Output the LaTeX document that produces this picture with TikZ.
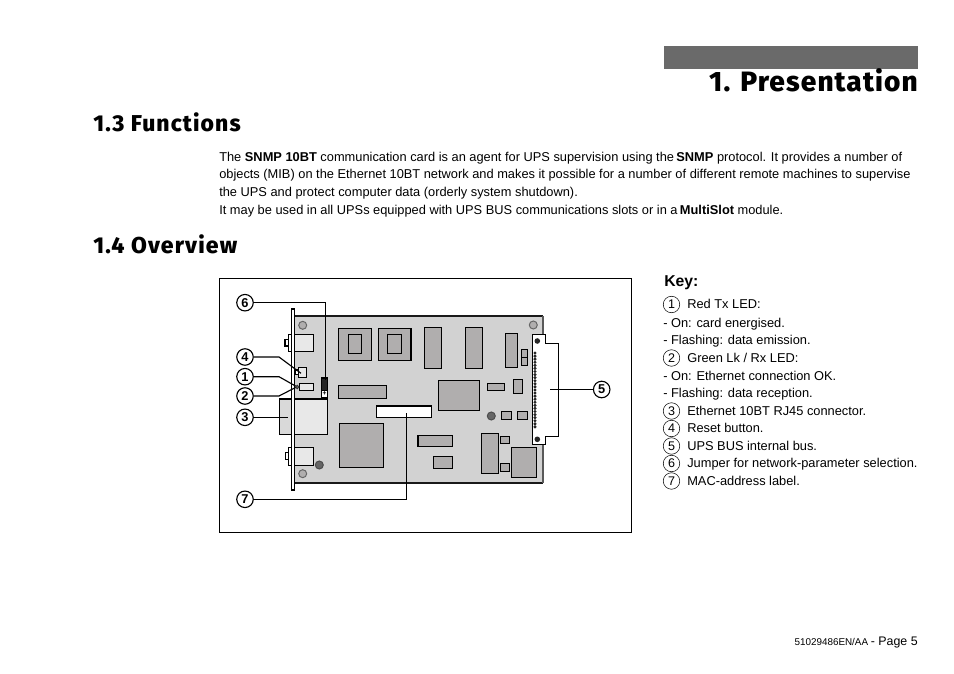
\documentclass[tikz,border=0pt]{standalone}
\usepackage{fontspec}
\setmainfont{Liberation Sans}
\newfontfamily\titlefont{Fira Sans}[BoldFont={Fira Sans ExtraBold},LetterSpace=4]
\newfontfamily\headfont{Fira Sans}[BoldFont={Fira Sans ExtraBold},LetterSpace=5]
\definecolor{boardc}{HTML}{D2D2D2}
\definecolor{chipc}{HTML}{B0AEAE}
\definecolor{lightc}{HTML}{E8E8E8}
\definecolor{darkc}{HTML}{666666}
\definecolor{barc}{HTML}{6A6A6A}
\tikzset{
  chip/.style={draw=black,line width=0.85pt,fill=chipc},
  pale/.style={draw=black,line width=0.85pt,fill=lightc},
  whitepart/.style={draw=black,line width=0.85pt,fill=white},
  hole/.style={draw=darkc,line width=0.75pt,fill=chipc},
  led/.style={draw=black!80,line width=0.6pt,fill=darkc},
  leader/.style={draw=black,line width=0.85pt},
  bubble/.style={circle,draw=black,line width=0.85pt,fill=white,minimum size=12.4pt,inner sep=0pt,font=\fontsize{9.6}{10}\selectfont\bfseries},
  keynum/.style={circle,draw=black,line width=0.4pt,fill=white,minimum size=12.4pt,inner sep=0pt,font=\fontsize{9.4}{10}\selectfont},
  body/.style={anchor=base west,inner sep=0pt,font=\fontsize{9.62}{12}\selectfont},
  keyt/.style={anchor=base west,inner sep=0pt,font=\fontsize{9.62}{12}\selectfont},
  head/.style={anchor=base west,inner sep=0pt,font=\headfont\fontsize{17.2}{18}\selectfont\bfseries},
}
\begin{document}
\begin{tikzpicture}[x=0.75pt,y=-0.75pt]
\useasboundingbox (0,0) rectangle (954,674);
% header
\fill[barc] (664,46) rectangle (918,69);
\node[anchor=base east,inner sep=0pt,font=\titlefont\fontsize{21}{24}\selectfont\bfseries] (title) at (918,92) {1. Presentation};
\node[head] (h13) at (93,131.5) {1.3 Functions};
\node[head] (h14) at (93,253.5) {1.4 Overview};
% body
\node[body] (l1) at (219,161.5) {The \textbf{SNMP 10BT} communication card is an agent for UPS supervision using the\hspace{-0.1em} \textbf{SNMP} protocol. It provides a number of};
\node[body] (l2) at (219,178.5) {objects (MIB) on the Ethernet 10BT network and makes it possible for a number of different remote machines to supervise};
\node[body] (l3) at (219,196.5) {the UPS and protect computer data (orderly system shutdown).};
\node[body] (l4) at (219,214.5) {It may be used in all UPSs equipped with UPS BUS communications slots or in a\hspace{-0.1em} \textbf{MultiSlot} module.};
% frame
\draw[black,line width=0.6pt] (219,278) rectangle (631,532);
% board
\fill[boardc] (294,316) rectangle (543,483);
\draw[black!90,line width=1.6pt] (294,316) -- (543,316);
\draw[black!90,line width=1.6pt] (294,483) -- (543,483);
\draw[black!65,line width=1pt] (543,316) -- (543,483);
% holes
\draw[hole] (302.7,325.3) circle (4);
\draw[hole] (302.7,473.7) circle (4);
\draw[hole] (533.3,325) circle (4);
\draw[draw=black!70,line width=0.75pt,fill=darkc] (319.3,465) circle (4);
\draw[draw=black!70,line width=0.75pt,fill=darkc] (491.3,416) circle (4);
% left connectors
\draw[pale] (294.7,334.3) rectangle (313.5,351.3);
\draw[whitepart] (285,339.3) rectangle (288.3,346);
\draw[whitepart] (288.3,334.3) rectangle (291.3,351.3);
\draw[pale] (294.7,447.3) rectangle (313.5,465.3);
\draw[whitepart] (285.3,452.3) rectangle (288.3,459.3);
\draw[whitepart] (288.3,447.3) rectangle (291.3,465.3);
% RJ45
\fill[boardc!85!white] (279.3,399) rectangle (291.3,434.3);
\fill[lightc] (294.7,399) rectangle (327.7,434.3);
\draw[black,line width=0.85pt] (279.3,399) rectangle (327.7,434.3);
% panel
\draw[whitepart] (291.3,309) rectangle (294.7,490);
% reset & leds
\draw[pale] (298.3,367.3) rectangle (306.7,377.3);
\draw[whitepart] (295.3,370) rectangle (298.3,374.3);
\draw[pale] (299.3,383.3) rectangle (313.5,390.7);
\draw[led] (297.3,387) circle (1.8);
% jumper
\draw[whitepart] (321.3,378) rectangle (327.7,397.3);
\fill[black!85] (322.3,379) rectangle (326.7,390.3);
\draw[black,line width=0.5pt] (321.3,390.5) -- (327.7,390.5);
\node[inner sep=0pt,font=\fontsize{5}{5}\selectfont\bfseries] (jplus) at (324.5,393.9) {+};
% ICs
\draw[chip] (338.3,328.3) rectangle (371.7,360.3);
\draw[chip] (348.3,334.3) rectangle (361.7,353.3);
\draw[chip] (378.3,328.3) rectangle (411,360.3);
\draw[chip] (387.3,334.3) rectangle (401.7,353.3);
\draw[chip] (338.3,385.3) rectangle (386.7,398.7);
\draw[chip] (339.3,423.3) rectangle (383.7,467.3);
\draw[chip] (418,435.3) rectangle (452.7,446.7);
\draw[chip] (433.3,456.3) rectangle (452.7,468.3);
\draw[chip] (424.3,327.3) rectangle (441.7,368.3);
\draw[chip] (465.3,327.3) rectangle (482.7,368.3);
\draw[chip] (505.3,333.3) rectangle (517.7,367.7);
\draw[chip] (521.3,349.3) rectangle (527.7,357.3);
\draw[chip] (521.3,357.3) rectangle (527.7,365.3);
\draw[chip] (438.3,380.3) rectangle (479.7,410.3);
\draw[chip] (487.3,383.3) rectangle (504.7,390.7);
\draw[chip] (513.3,379.3) rectangle (522.3,393.3);
\draw[chip] (501.3,411.7) rectangle (511.7,419.3);
\draw[chip] (517.3,411.7) rectangle (527.7,419.3);
\draw[chip] (481.3,433.3) rectangle (498.7,473.7);
\draw[chip] (500.3,436.3) rectangle (509.7,443.3);
\draw[chip] (500.3,463.3) rectangle (509.7,471.3);
\draw[chip] (511.3,447.3) rectangle (536.7,477.7);
\draw[whitepart] (376.3,406) rectangle (431.7,417.3);
% bus connector
\draw[whitepart] (532.3,334.3) -- (545.7,334.3) -- (545.7,343.3) -- (558.3,343.3) -- (558.3,436.3) -- (545.7,436.3) -- (545.7,444.3) -- (532.3,444.3) -- cycle;
\fill[black!85] (537.3,341) circle (2.8);
\fill[black!85] (537.3,439.3) circle (2.8);
\foreach \i in {0,...,24} \fill[black!85] (535,{353+\i*3.08}) circle (1.7);
% named free ends
\coordinate (c6a) at (325.3,302.7);
\coordinate (c6) at (325.3,380);
\coordinate (c4a) at (279,357);
\coordinate (c4) at (301,373.3);
\coordinate (c1a) at (279,376.7);
\coordinate (c1) at (295.5,386);
\coordinate (c2a) at (279,396);
\coordinate (c2) at (295.5,387.5);
\coordinate (c3) at (288,417.3);
\coordinate (c7a) at (406.7,499.3);
\coordinate (c7) at (406.7,413.3);
\coordinate (c5) at (550,389.5);
% bubbles
\node[bubble] (b6) at (245,302.7) {6};
\node[bubble] (b4) at (245,357) {4};
\node[bubble] (b1) at (245,376.7) {1};
\node[bubble] (b2) at (245,396) {2};
\node[bubble] (b3) at (245,417.3) {3};
\node[bubble] (b7) at (245,499.3) {7};
\node[bubble] (b5) at (601.7,389.5) {5};
\draw[leader] (b6.east) -- (c6a) -- (c6);
\draw[leader] (b4.east) -- (c4a) -- (c4);
\draw[leader] (b1.east) -- (c1a) -- (c1);
\draw[leader] (b2.east) -- (c2a) -- (c2);
\draw[leader] (b3.east) -- (c3);
\draw[leader] (b7.east) -- (c7a) -- (c7);
\draw[leader] (b5.west) -- (c5);
% key
\node[anchor=base west,inner sep=0pt,font=\fontsize{11.8}{13}\selectfont\bfseries] (key) at (664,286.5) {Key:};
\node[keynum] (k1) at (671.5,304.5) {1};
\node[keyt] (t1) at (687,308.5) {Red Tx LED:};
\node[keyt] (t1a) at (663,327) {- On: card energised.};
\node[keyt] (t1b) at (663,344) {- Flashing: data emission.};
\node[keynum] (k2) at (671.5,358) {2};
\node[keyt] (t2) at (687,362) {Green Lk / Rx LED:};
\node[keyt] (t2a) at (663,380) {- On: Ethernet connection OK.};
\node[keyt] (t2b) at (663,397) {- Flashing: data reception.};
\node[keynum] (k3) at (671.5,411) {3};
\node[keyt] (t3) at (687,415) {Ethernet 10BT RJ45 connector.};
\node[keynum] (k4) at (671.5,428.5) {4};
\node[keyt] (t4) at (687,432) {Reset button.};
\node[keynum] (k5) at (671.5,446) {5};
\node[keyt] (t5) at (687,450) {UPS BUS internal bus.};
\node[keynum] (k6) at (671.5,463.5) {6};
\node[keyt] (t6) at (687,467.5) {Jumper for network-parameter selection.};
\node[keynum] (k7) at (671.5,481) {7};
\node[keyt] (t7) at (687,485) {MAC-address label.};
% footer
\node[anchor=base east,inner sep=0pt] (foot) at (918,645) {\fontsize{7.4}{9}\selectfont 51029486EN/AA \fontsize{9.3}{9}\selectfont - Page 5};
\end{tikzpicture}
\end{document}
